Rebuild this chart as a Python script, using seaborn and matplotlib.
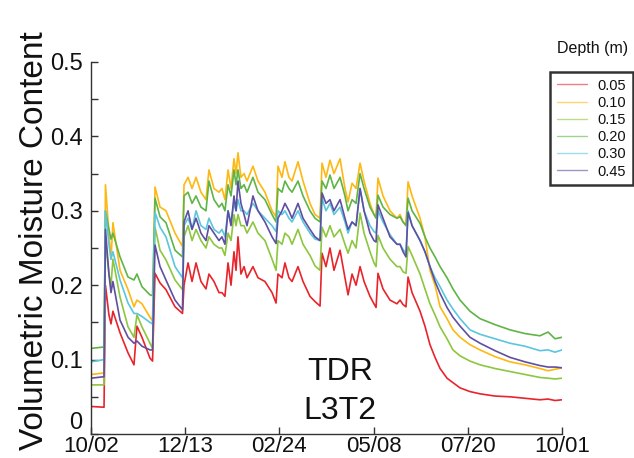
import numpy as np
import pandas as pd
import matplotlib
matplotlib.use("Agg")
import matplotlib.pyplot as plt
from matplotlib.lines import Line2D
from matplotlib.ticker import MultipleLocator
import seaborn as sns

# Day of record (0 = 10/02) for each reading
days = [0.0, 10.1, 11.2, 13.9, 15.5, 17.0, 22.5, 28.7, 33.3, 35.6, 39.5, 45.7, 47.7,
        49.6, 53.5, 58.1, 65.1, 70.9, 72.1, 75.2, 78.3, 81.4, 85.2, 89.1, 91.4, 95.3,
        99.2, 101.5, 103.8, 106.2, 108.5, 110.8, 112.4, 113.9, 116.2, 118.6, 120.9,
        125.5, 129.4, 134.8, 140.3, 143.4, 144.9, 148.0, 150.3, 153.4, 155.8, 160.4,
        164.3, 169.7, 173.6, 177.5, 179.0, 182.1, 185.2, 188.3, 193.0, 196.8, 199.2,
        202.3, 205.4, 208.5, 211.6, 216.2, 219.3, 220.9, 222.4, 226.3, 231.7, 237.1,
        239.5, 241.8, 244.1, 245.7, 248.8, 255.0, 258.8, 262.7, 266.6, 270.5, 275.9,
        280.5, 286.0, 293.7, 301.5, 313.1, 324.7, 336.3, 347.9, 354.2, 359.6, 365.0]

vwc_005 = [.037, .036, .200, .160, .148, .165, .136, .109, .093, .145, .130, .102, .098,
           .216, .203, .194, .171, .162, .200, .230, .205, .230, .205, .195, .215, .205,
           .190, .190, .185, .230, .200, .245, .220, .265, .215, .225, .210,
           .225, .210, .205, .190, .176, .215, .210, .230, .210, .205, .225,
           .205, .185, .178, .172, .243, .225, .250, .220, .247, .210, .187,
           .215, .200, .225, .205, .185, .175, .170, .216, .195, .180, .175,
           .180, .174, .171, .211, .190, .165, .145, .120, .103, .088, .075,
           .069, .062, .057, .054, .051, .050, .048, .046, .047, .045, .046]

vwc_010 = [.080, .082, .335, .270, .235, .284, .220, .194, .171, .180, .175, .157, .152,
           .332, .305, .300, .270, .252, .335, .345, .330, .345, .325, .315, .355, .330,
           .325, .330, .315, .355, .330, .370, .350, .378, .345, .350, .340,
           .360, .340, .325, .300, .292, .360, .345, .366, .345, .340, .366,
           .340, .310, .295, .290, .364, .345, .368, .350, .370, .330, .312,
           .337, .330, .364, .340, .310, .295, .292, .344, .320, .300, .290,
           .295, .285, .281, .339, .320, .290, .265, .220, .200, .171, .155,
           .140, .130, .120, .113, .104, .097, .093, .088, .085, .087, .089]

vwc_015 = [.066, .066, .260, .215, .200, .235, .184, .144, .130, .160, .144, .122, .115,
           .278, .247, .234, .207, .194, .265, .280, .260, .275, .260, .250, .265, .255,
           .250, .250, .240, .270, .260, .295, .280, .295, .280, .280, .270,
           .285, .270, .260, .235, .220, .260, .255, .270, .265, .255, .275,
           .255, .240, .226, .220, .278, .265, .280, .265, .275, .255, .243,
           .260, .250, .297, .270, .245, .230, .225, .267, .250, .235, .225,
           .225, .218, .216, .252, .240, .215, .195, .175, .160, .144, .128,
           .113, .105, .098, .093, .088, .084, .080, .076, .075, .074, .075]

vwc_020 = [.115, .117, .300, .275, .262, .270, .238, .211, .207, .215, .198, .187, .186,
           .317, .292, .284, .247, .238, .320, .325, .310, .320, .305, .300, .340, .315,
           .305, .310, .300, .335, .320, .355, .335, .355, .330, .335, .325,
           .345, .325, .315, .295, .285, .330, .325, .340, .330, .325, .340,
           .320, .300, .290, .285, .340, .330, .348, .330, .345, .320, .300,
           .315, .310, .350, .330, .305, .295, .290, .321, .305, .295, .290,
           .292, .285, .280, .317, .300, .283, .265, .250, .238, .225, .210,
           .195, .180, .165, .155, .147, .140, .135, .132, .137, .128, .130]

vwc_030 = [.097, .100, .300, .255, .235, .245, .207, .176, .162, .162, .158, .150, .148,
           .298, .278, .265, .225, .210, .280, .290, .275, .300, .280, .275, .290, .275,
           .270, .275, .265, .300, .285, .310, .300, .315, .300, .300, .295,
           .310, .300, .290, .280, .272, .300, .295, .300, .290, .285, .300,
           .285, .270, .262, .260, .317, .300, .310, .295, .305, .285, .270,
           .285, .280, .330, .300, .280, .272, .270, .300, .285, .268, .255,
           .255, .248, .243, .300, .280, .260, .245, .225, .210, .198, .180,
           .168, .155, .140, .134, .128, .122, .118, .112, .113, .110, .113]

vwc_045 = [.075, .077, .275, .215, .190, .205, .153, .130, .122, .125, .118, .113, .113,
           .254, .225, .207, .180, .167, .285, .300, .275, .290, .270, .260, .280, .270,
           .260, .265, .255, .300, .280, .320, .300, .340, .310, .295, .280,
           .320, .300, .285, .265, .256, .290, .300, .310, .300, .290, .310,
           .290, .275, .265, .260, .324, .310, .315, .300, .315, .290, .275,
           .285, .280, .330, .300, .270, .260, .258, .308, .290, .265, .255,
           .255, .245, .238, .298, .280, .260, .245, .225, .205, .189, .170,
           .157, .145, .130, .122, .112, .103, .097, .092, .090, .090, .089]

depths = ["0.05", "0.10", "0.15", "0.20", "0.30", "0.45"]
series = [vwc_005, vwc_010, vwc_015, vwc_020, vwc_030, vwc_045]
colors = ["#e8242b", "#fdb813", "#8dc63f", "#5fb446", "#5bc6de", "#5e4fa2"]

tick_days = [0, 73, 146, 219, 292, 365]
tick_dates = ["10/02", "12/13", "02/24", "05/08", "07/20", "10/01"]
y_ticks = [0.0, 0.1, 0.2, 0.3, 0.4, 0.5]
y_tick_labels = ["0", "0.1", "0.2", "0.3", "0.4", "0.5"]

df = pd.concat(
    [pd.DataFrame({"day": days, "vwc": vals, "depth": d}) for d, vals in zip(depths, series)],
    ignore_index=True,
)

sns.set_style("ticks")
plt.rcParams["font.family"] = ["Liberation Sans", "DejaVu Sans"]

fig = plt.figure(figsize=(6.34, 4.58), dpi=100)
ax = fig.add_axes([91 / 634, 24 / 458, 471 / 634, 372 / 458])

palette = dict(zip(depths, colors))
sns.lineplot(data=df, x="day", y="vwc", hue="depth", hue_order=depths,
             palette=palette, estimator=None, sort=True, linewidth=1.2,
             legend=False, ax=ax)

ax.set_xlim(0, 365)
ax.set_ylim(0, 0.5)
ax.set_xticks(tick_days)
ax.set_xticklabels(tick_dates)
ax.set_yticks(y_ticks)
ax.set_yticklabels(y_tick_labels)
ax.yaxis.set_minor_locator(MultipleLocator(0.05))

sns.despine(ax=ax)
for side in ("left", "bottom"):
    ax.spines[side].set_color("#333333")
    ax.spines[side].set_linewidth(1.0)

ax.tick_params(axis="both", which="both", direction="in", length=5, width=1,
               color="#333333", labelcolor="#111111")
ax.tick_params(axis="y", pad=6, labelsize=17)
ax.tick_params(axis="x", pad=1.5, labelsize=16)
# lift the zero label clear of the first date label
ax.get_yticklabels()[0].set_verticalalignment("bottom")

ax.set_xlabel("")
ax.set_ylabel("Volumetric Moisture Content", fontsize=24, color="#111111")
ax.yaxis.set_label_coords(-0.088, 0.52)

ax.text(0.529, 0.167, "TDR", transform=ax.transAxes, ha="center", va="center",
        fontsize=23, color="#111111")
ax.text(0.529, 0.062, "L3T2", transform=ax.transAxes, ha="center", va="center",
        fontsize=23, color="#111111")

handles = [Line2D([0], [0], color=c, linewidth=1.0, alpha=0.6) for c in colors]
leg = fig.legend(handles, depths, loc="upper left",
                 bbox_to_anchor=(550 / 634, 1 - 72 / 458),
                 frameon=True, fancybox=False, edgecolor="black",
                 fontsize=10.5, handlelength=2.1, handletextpad=0.7,
                 borderpad=0.45, labelspacing=0.22, borderaxespad=0)
leg.get_frame().set_linewidth(1.8)
for t in leg.get_texts():
    t.set_color("#111111")

fig.text(593 / 634, 1 - 48 / 458, "Depth (m)", ha="center", va="center",
         fontsize=11.5, color="#111111")

fig.savefig("out.png", dpi=100)
